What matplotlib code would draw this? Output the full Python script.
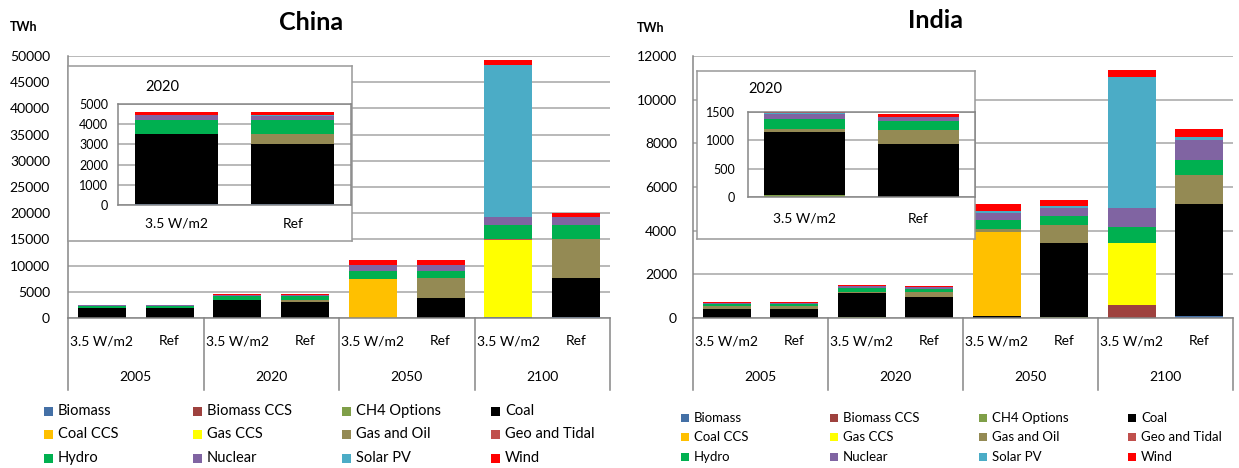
import numpy as np
import matplotlib
matplotlib.use("Agg")
import matplotlib.pyplot as plt
from matplotlib.patches import Rectangle
from matplotlib.transforms import blended_transform_factory

W, H = 1239, 468

# categories
years = ["2005", "2020", "2050", "2100"]
scenarios = ["3.5 W/m2", "Ref"]
sources = ["Biomass", "Biomass CCS", "CH4 Options", "Coal", "Coal CCS", "Gas CCS",
           "Gas and Oil", "Geo and Tidal", "Hydro", "Nuclear", "Solar PV", "Wind"]
colors = ["#4470A6", "#9E413E", "#7F9F48", "#000000", "#FFC000", "#FFFF00",
          "#948A54", "#C0504D", "#00B050", "#8064A2", "#4BACC6", "#FF0000"]

# China, TWh: 2005 (3.5, Ref), 2020 (3.5, Ref), 2050 (3.5, Ref), 2100 (3.5, Ref)
china_biomass = [20, 20, 30, 30, 50, 50, 100, 150]
china_biomass_ccs = [0, 0, 0, 0, 0, 0, 0, 0]
china_ch4 = [0, 0, 0, 0, 0, 0, 0, 0]
china_coal = [1900, 1900, 3500, 3000, 0, 3700, 0, 7450]
china_coal_ccs = [0, 0, 0, 0, 7450, 0, 0, 0]
china_gas_ccs = [0, 0, 0, 0, 0, 0, 14800, 0]
china_gas_oil = [50, 50, 0, 500, 0, 3800, 0, 7400]
china_geo = [0, 0, 0, 0, 0, 0, 100, 100]
china_hydro = [400, 400, 700, 700, 1500, 1500, 2800, 2700]
china_nuclear = [100, 100, 240, 200, 1050, 1000, 1450, 1450]
china_solar = [0, 0, 10, 50, 20, 50, 29000, 0]
china_wind = [50, 50, 110, 100, 1000, 1000, 900, 850]

# India, TWh
india_biomass = [0, 0, 0, 0, 0, 0, 0, 100]
india_biomass_ccs = [0, 0, 0, 0, 0, 0, 600, 0]
india_ch4 = [0, 0, 30, 0, 0, 50, 0, 0]
india_coal = [400, 400, 1110, 940, 100, 3400, 0, 5100]
india_coal_ccs = [0, 0, 0, 0, 3820, 0, 0, 0]
india_gas_ccs = [0, 0, 0, 0, 0, 0, 2850, 0]
india_gas_oil = [140, 140, 65, 250, 150, 800, 0, 1330]
india_geo = [0, 0, 0, 0, 0, 0, 0, 0]
india_hydro = [110, 110, 165, 150, 400, 410, 700, 710]
india_nuclear = [30, 30, 90, 70, 360, 400, 900, 890]
india_solar = [10, 10, 15, 10, 50, 70, 5980, 180]
india_wind = [50, 50, 20, 40, 340, 270, 310, 340]

china = [china_biomass, china_biomass_ccs, china_ch4, china_coal, china_coal_ccs,
         china_gas_ccs, china_gas_oil, china_geo, china_hydro, china_nuclear,
         china_solar, china_wind]
india = [india_biomass, india_biomass_ccs, india_ch4, india_coal, india_coal_ccs,
         india_gas_ccs, india_gas_oil, india_geo, india_hydro, india_nuclear,
         india_solar, india_wind]

plt.rcParams["font.family"] = ["Lato", "DejaVu Sans"]
grid_c = "#A6A6A6"
axis_c = "#868686"

fig = plt.figure(figsize=(W / 100, H / 100), dpi=100)


def add_ax(l, t, r, b):
    return fig.add_axes([l / W, 1 - b / H, (r - l) / W, (b - t) / H])


def stack(ax, x, vals, idx, width):
    bottom = np.zeros(len(idx))
    for v, c in zip(vals, colors):
        v = np.array(v, dtype=float)[idx]
        ax.bar(x, v, width, bottom=bottom, color=c, linewidth=0, zorder=2)
        bottom += v


def main_panel(box, vals, ymax, ystep, pad):
    l, t, r, b = box
    ax = add_ax(*box)
    stack(ax, np.arange(8), vals, np.arange(8), 0.71)
    ax.set_xlim(-0.5, 7.5)
    ax.set_ylim(0, ymax)
    ax.set_yticks(np.arange(0, ymax + 1, ystep))
    ax.yaxis.grid(True, color=grid_c, lw=1.1)
    ax.set_axisbelow(True)
    ax.set_xticks([])
    ax.tick_params(axis="y", length=0, pad=pad, labelsize=10)
    for s in ["top", "right"]:
        ax.spines[s].set_visible(False)
    for s in ["left", "bottom"]:
        ax.spines[s].set_color(axis_c)
        ax.spines[s].set_linewidth(1.1)
    hh = b - t
    tr = blended_transform_factory(ax.transData, ax.transAxes)
    for s in [-0.5, 1.5, 3.5, 5.5, 7.5]:
        ax.plot([s, s], [0, -72 / hh], color=axis_c, lw=1.1, transform=tr, clip_on=False)
    for i in range(8):
        ax.text(i, -23 / hh, scenarios[i % 2], transform=tr, ha="center", va="center", fontsize=10)
    for g in range(4):
        ax.text(2 * g + 0.5, -59 / hh, years[g], transform=tr, ha="center", va="center", fontsize=10)
    return ax


def inset_panel(frame, box, vals, ymax, ystep, ypad, xpad):
    fr = add_ax(*frame)
    fr.set_xticks([])
    fr.set_yticks([])
    for s in fr.spines.values():
        s.set_color("#999999")
        s.set_linewidth(1.1)
    ax = add_ax(*box)
    stack(ax, np.arange(2), vals, [2, 3], 0.71)
    ax.set_xlim(-0.5, 1.5)
    ax.set_ylim(0, ymax)
    ax.set_yticks(np.arange(0, ymax + 1, ystep))
    ax.set_xticks([0, 1])
    ax.set_xticklabels(scenarios)
    ax.yaxis.grid(True, color=grid_c, lw=1.1)
    ax.set_axisbelow(True)
    ax.tick_params(axis="y", length=0, pad=ypad, labelsize=9)
    ax.tick_params(axis="x", length=0, pad=xpad, labelsize=10)
    for s in ax.spines.values():
        s.set_color(axis_c)
        s.set_linewidth(1.1)
    return ax


def legend(xs, ys, sq, fs, dx):
    for i, (name, c) in enumerate(zip(sources, colors)):
        row, col = divmod(i, 4)
        x, y = xs[col], ys[row]
        fig.add_artist(Rectangle((x / W, 1 - (y + sq / 2) / H), sq / W, sq / H,
                                 transform=fig.transFigure, color=c, lw=0))
        fig.text((x + dx) / W, 1 - y / H, name, fontsize=fs, va="center", ha="left")


# China
main_panel((68, 56, 610, 318), china, 50000, 5000, 13)
inset_panel((68, 66, 352, 241), (118, 104, 351, 205), china, 5000, 1000, 7, 9)
fig.text(162 / W, 1 - 87 / H, "2020", fontsize=10.5, ha="center", va="center")
fig.text(311 / W, 1 - 22 / H, "China", fontsize=18, fontweight="bold", ha="center", va="center")
fig.text(10 / W, 1 - 27 / H, "TWh", fontsize=9, fontweight="bold", ha="left", va="center")
legend([44, 193, 342, 491], [411, 434, 458], 9, 10.5, 14)

# India
main_panel((693, 56, 1233, 318), india, 12000, 2000, 11.5)
inset_panel((697, 71, 975, 239), (748, 112, 975, 197), india, 1500, 500, 9.5, 11.5)
fig.text(765 / W, 1 - 89 / H, "2020", fontsize=10.5, ha="center", va="center")
fig.text(935 / W, 1 - 20 / H, "India", fontsize=18, fontweight="bold", ha="center", va="center")
fig.text(637 / W, 1 - 28 / H, "TWh", fontsize=9, fontweight="bold", ha="left", va="center")
legend([681, 830, 979, 1128], [418, 437, 457], 8, 9.5, 13)

fig.savefig("out.png", dpi=100)
